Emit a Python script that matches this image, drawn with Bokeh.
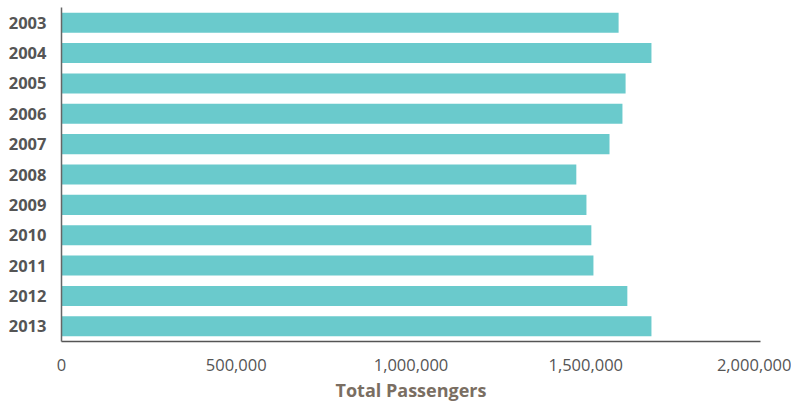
from bokeh.plotting import figure
from bokeh.models import FactorRange, Range1d, FixedTicker, NumeralTickFormatter, ColumnDataSource
from bokeh.embed import file_html
from bokeh.resources import INLINE

years = ["2003", "2004", "2005", "2006", "2007", "2008", "2009", "2010", "2011", "2012", "2013"]
passengers = [1594000, 1688000, 1614000, 1605000, 1568000, 1473000, 1502000, 1516000, 1522000, 1619000, 1688000]
x_ticks = [0, 500000, 1000000, 1500000, 2000000]

src = ColumnDataSource(dict(year=years, total=passengers))

p = figure(width=791, height=404, output_backend="svg", toolbar_location=None,
           y_range=FactorRange(factors=list(reversed(years)), range_padding=0),
           x_range=Range1d(0, 2000000),
           min_border_left=61, min_border_right=31, min_border_top=7, min_border_bottom=63)

p.hbar(y="year", right="total", left=0, height=0.66, source=src,
       fill_color="#6ACACC", line_color=None)

p.xgrid.visible = False
p.ygrid.visible = False
p.outline_line_color = None
p.background_fill_color = "white"
p.border_fill_color = "white"

xa = p.xaxis[0]
xa.ticker = FixedTicker(ticks=x_ticks)
xa.formatter = NumeralTickFormatter(format="0,0")
xa.major_tick_line_color = None
xa.minor_tick_line_color = None
xa.axis_line_color = "#555555"
xa.axis_line_width = 1.5
xa.major_label_text_font = "Open Sans"
xa.major_label_text_font_size = "16.5px"
xa.major_label_text_color = "#555555"
xa.major_label_standoff = 11
xa.axis_label = "Total Passengers"
xa.axis_label_text_font = "Open Sans"
xa.axis_label_text_font_style = "bold"
xa.axis_label_text_font_size = "18px"
xa.axis_label_text_color = "#7a6e62"
xa.axis_label_standoff = 4

ya = p.yaxis[0]
ya.major_tick_line_color = None
ya.minor_tick_line_color = None
ya.axis_line_color = "#666666"
ya.axis_line_width = 1.5
ya.major_label_text_font = "Open Sans"
ya.major_label_text_font_style = "bold"
ya.major_label_text_font_size = "16.5px"
ya.major_label_text_color = "#555555"
ya.major_label_standoff = 9

open("out.html", "w").write(file_html(p, INLINE))
